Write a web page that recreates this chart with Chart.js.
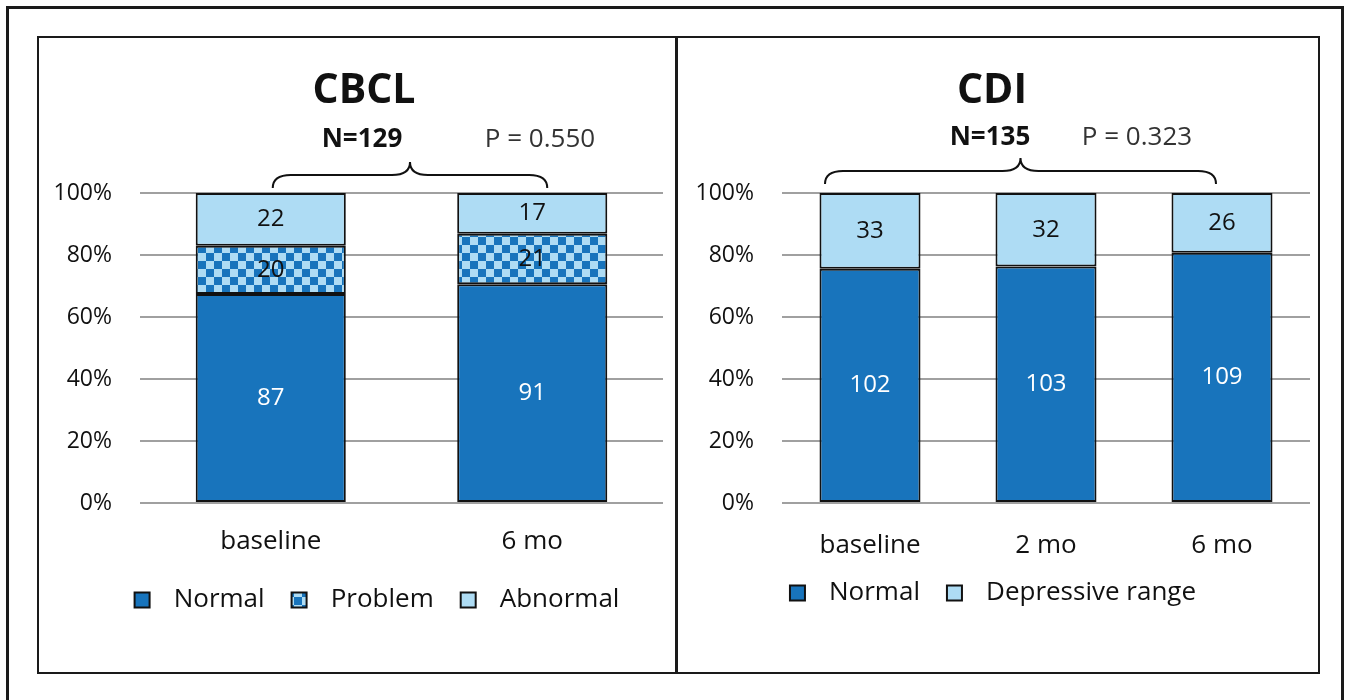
<!DOCTYPE html>
<html>
<head>
<meta charset="utf-8">
<script src="https://cdn.jsdelivr.net/npm/chart.js@4.4.1/dist/chart.umd.min.js"></script>
<style>
  html, body { margin: 0; padding: 0; background: #fff; }
  body { width: 1353px; height: 700px; position: relative; overflow: hidden; }
  .outer { position: absolute; left: 6px; top: 6px; width: 1338px; height: 720px;
           border: 3px solid #1a1a1a; box-sizing: border-box; }
  .inner { position: absolute; left: 37px; top: 36px; width: 1283px; height: 638px;
           border: 2.5px solid #1a1a1a; box-sizing: border-box; }
  .divider { position: absolute; left: 675px; top: 36px; width: 2.5px; height: 638px; background: #1a1a1a; }
  .panel { position: absolute; top: 37px; height: 635px; }
  #cbclWrap { left: 38px; width: 638px; }
  #cdiWrap { left: 677px; width: 641px; }
</style>
</head>
<body>
<div class="outer"></div>
<div class="inner"></div>
<div class="divider"></div>
<div class="panel" id="cbclWrap"><canvas id="cbclChart"></canvas></div>
<div class="panel" id="cdiWrap"><canvas id="cdiChart"></canvas></div>
<script>
// CBCL (N=129)
const cbclCategories = ['baseline', '6 mo'];
const cbclNormal = [87, 91];
const cbclProblem = [20, 21];
const cbclAbnormal = [22, 17];

// CDI (N=135)
const cdiCategories = ['baseline', '2 mo', '6 mo'];
const cdiNormal = [102, 103, 109];
const cdiDepressive = [33, 32, 26];

const FONT = '"Open Sans", sans-serif';
const darkBlue = '#1874bc';
const lightBlue = '#aedcf4';

// checker pattern for "Problem"
function checker() {
    const c = document.createElement('canvas');
    c.width = 16; c.height = 16;
    const g = c.getContext('2d');
    g.fillStyle = lightBlue; g.fillRect(0, 0, 16, 16);
    g.fillStyle = darkBlue;
    g.fillRect(0, 0, 8, 8); g.fillRect(8, 8, 8, 8);
    return g.createPattern(c, 'repeat');
}

function shares(series, all) {
    return series.map((v, i) => {
        const tot = all.reduce((s, arr) => s + arr[i], 0);
        return v / tot * 100;
    });
}

function ds(label, counts, all, bg, textColor) {
    return {
        label: label,
        data: shares(counts, all),
        counts: counts,
        textColor: textColor,
        backgroundColor: bg,
        borderColor: '#111',
        borderWidth: 2,
        borderSkipped: false,
        barPercentage: 0.574,
        categoryPercentage: 1
    };
}

// count labels inside the segments
const countLabels = {
    id: 'countLabels',
    afterDatasetsDraw(chart) {
        const ctx = chart.ctx;
        ctx.save();
        ctx.font = '24px ' + FONT;
        ctx.textAlign = 'center';
        ctx.textBaseline = 'middle';
        chart.data.datasets.forEach((d, i) => {
            chart.getDatasetMeta(i).data.forEach((bar, j) => {
                ctx.fillStyle = d.textColor;
                ctx.fillText(d.counts[j], bar.x, (bar.y + bar.base) / 2);
            });
        });
        ctx.restore();
    }
};

// title, N, P and brace above the bars
const header = {
    id: 'header',
    afterDraw(chart, args, o) {
        const ctx = chart.ctx;
        const x = chart.scales.x;
        ctx.save();
        ctx.fillStyle = '#111';
        ctx.textAlign = 'center';
        ctx.textBaseline = 'alphabetic';
        ctx.font = 'bold 41px ' + FONT;
        ctx.fillText(o.title, o.titleX, 66);
        ctx.font = 'bold 26px ' + FONT;
        ctx.fillText(o.n, o.nX, o.nY);
        ctx.fillStyle = '#333';
        ctx.font = '26px ' + FONT;
        ctx.fillText(o.p, o.pX, o.nY);

        const x0 = x.getPixelForValue(0) + o.from;
        const x1 = x.getPixelForValue(o.toIndex) + o.to;
        const xm = (x0 + x1) / 2;
        const yE = o.braceY + 13, yH = o.braceY, yP = o.braceY - 13;
        ctx.strokeStyle = '#111';
        ctx.lineWidth = 2;
        ctx.beginPath();
        ctx.moveTo(x0, yE);
        ctx.quadraticCurveTo(x0, yH, x0 + 18, yH);
        ctx.lineTo(xm - 18, yH);
        ctx.quadraticCurveTo(xm, yH, xm, yP);
        ctx.quadraticCurveTo(xm, yH, xm + 18, yH);
        ctx.lineTo(x1 - 18, yH);
        ctx.quadraticCurveTo(x1, yH, x1, yE);
        ctx.stroke();
        ctx.restore();
    }
};

// nudge the legend row sideways
const legendShift = {
    id: 'legendShift',
    afterLayout(chart, args, o) {
        chart.legend.left += o.dx;
        chart.legend.right += o.dx;
    }
};

function makeOptions(yWidth, xHeight, xPad, pad, head, dx) {
    return {
        responsive: true,
        maintainAspectRatio: false,
        animation: false,
        layout: { padding: pad },
        scales: {
            x: {
                stacked: true,
                grid: { display: false },
                border: { display: false },
                ticks: { color: '#111', font: { family: FONT, size: 26 }, padding: xPad },
                afterFit: s => { s.height = xHeight; }
            },
            y: {
                stacked: true,
                min: 0, max: 100,
                grid: { color: '#a0a0a0', lineWidth: 2, drawTicks: false },
                border: { display: false },
                ticks: { stepSize: 20, color: '#111', padding: 28,
                         font: { family: FONT, size: 23 },
                         callback: v => v + '%' },
                afterFit: s => { s.width = yWidth; }
            }
        },
        plugins: {
            legend: {
                position: 'bottom',
                labels: {
                    color: '#111',
                    font: { family: FONT, size: 26 },
                    boxWidth: 15, boxHeight: 15,
                    padding: 14,
                    generateLabels: chart => Chart.defaults.plugins.legend.labels.generateLabels(chart)
                        .map(l => Object.assign(l, { text: ' \u2009' + l.text + '\u2002' }))
                }
            },
            tooltip: { enabled: false },
            header: head,
            legendShift: { dx: dx }
        }
    };
}

const cbclAll = [cbclNormal, cbclProblem, cbclAbnormal];
new Chart(document.getElementById('cbclChart').getContext('2d'), {
    type: 'bar',
    data: {
        labels: cbclCategories,
        datasets: [
            ds('Normal', cbclNormal, cbclAll, darkBlue, '#fff'),
            ds('Problem', cbclProblem, cbclAll, checker(), '#111'),
            ds('Abnormal', cbclAbnormal, cbclAll, lightBlue, '#111')
        ]
    },
    options: makeOptions(102, 70, 15, { left: 0, right: 13, top: 156, bottom: 49 },
        { title: 'CBCL', titleX: 326, n: 'N=129', nX: 324, nY: 110, p: 'P = 0.550', pX: 502,
          braceY: 138, from: 2, to: 15, toIndex: 1 }, 33),
    plugins: [countLabels, header, legendShift]
});

const cdiAll = [cdiNormal, cdiDepressive];
new Chart(document.getElementById('cdiChart').getContext('2d'), {
    type: 'bar',
    data: {
        labels: cdiCategories,
        datasets: [
            ds('Normal', cdiNormal, cdiAll, darkBlue, '#fff'),
            ds('Depressive range', cdiDepressive, cdiAll, lightBlue, '#111')
        ]
    },
    options: makeOptions(105, 63, 19, { left: 0, right: 8, top: 156, bottom: 56 },
        { title: 'CDI', titleX: 315, n: 'N=135', nX: 313, nY: 108, p: 'P = 0.323', pX: 460,
          braceY: 134, from: -45, to: -6, toIndex: 2 }, 6),
    plugins: [countLabels, header, legendShift]
});
</script>
</body>
</html>
